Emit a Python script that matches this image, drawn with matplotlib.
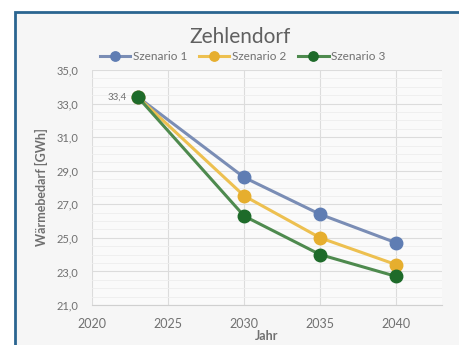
import numpy as np
from matplotlib import pyplot as plt
from matplotlib.patches import Rectangle

plt.rcParams['font.family'] = ['Lato', 'DejaVu Sans']

jahre = [2023, 2030, 2035, 2040]
szenario1 = [33.4, 28.6, 26.4, 24.7]
szenario2 = [33.4, 27.5, 25.0, 23.4]
szenario3 = [33.4, 26.3, 24.0, 22.7]
namen = ["Szenario 1", "Szenario 2", "Szenario 3"]
farben = ["#5F7DB3", "#E6AE2E", "#1E6B2A"]
linien = ["#7A8DB5", "#EDC050", "#4E8A4E"]

fig = plt.figure(figsize=(4.6, 3.45), dpi=100, facecolor="white")

# Rahmen um das Diagramm
fig.patches.append(Rectangle((15 / 460, -0.1), 1.2, 1 - 12 / 345 + 0.1,
                             transform=fig.transFigure, facecolor="#F6F6F6",
                             edgecolor="#2A6590", linewidth=2, zorder=-5))

ax = fig.add_axes([92 / 460, 1 - 305 / 345, 350 / 460, 235 / 345])
ax.set_facecolor("#FAFAFA")

for werte, name, f, l in zip([szenario1, szenario2, szenario3], namen, farben, linien):
    ax.plot(jahre, werte, color=l, linewidth=2.2, marker="o", markersize=9,
            markerfacecolor=f, markeredgecolor=f, label=name, zorder=3)

ax.annotate("33,4", (jahre[0], szenario3[0]), xytext=(-8, 0), textcoords="offset points",
            ha="right", va="center", fontsize=7, color="#707070")

ax.set_xlim(2020, 2043)
ax.set_ylim(21, 35)
ax.set_xticks([2020, 2025, 2030, 2035, 2040])
ax.set_yticks(np.arange(21, 35.1, 2))
ax.set_yticks(np.arange(21, 35.1, 0.5), minor=True)
ax.set_yticklabels([f"{v:.1f}".replace(".", ",") for v in np.arange(21, 35.1, 2)])
ax.grid(True, which="major", color="#DCDCDC", linewidth=0.8)
ax.grid(True, which="minor", axis="y", color="#EEEEEE", linewidth=0.6)
ax.tick_params(which="both", length=0, colors="#707070", labelsize=8)
ax.tick_params(axis="y", pad=10)
ax.tick_params(axis="x", labelsize=9, pad=9)
for s in ax.spines.values():
    s.set_visible(False)
ax.spines["bottom"].set_visible(True)
ax.spines["bottom"].set_color("#D0D0D0")

ax.set_xlabel("Jahr", fontsize=9, fontweight="bold", color="#707070", labelpad=0)
ax.set_ylabel("Wärmebedarf [GWh]", fontsize=9, fontweight="bold", color="#707070", labelpad=6)

fig.text(0.522, 1 - 37 / 345, "Zehlendorf", ha="center", va="center", fontsize=15, color="#606060")
fig.legend(loc="center", bbox_to_anchor=(0.527, 1 - 57 / 345), ncol=3, frameon=False,
           fontsize=8.5, labelcolor="#707070", handlelength=2.6, columnspacing=1.0,
           handletextpad=0.2, markerscale=0.75)

fig.savefig("out.png", dpi=100)
